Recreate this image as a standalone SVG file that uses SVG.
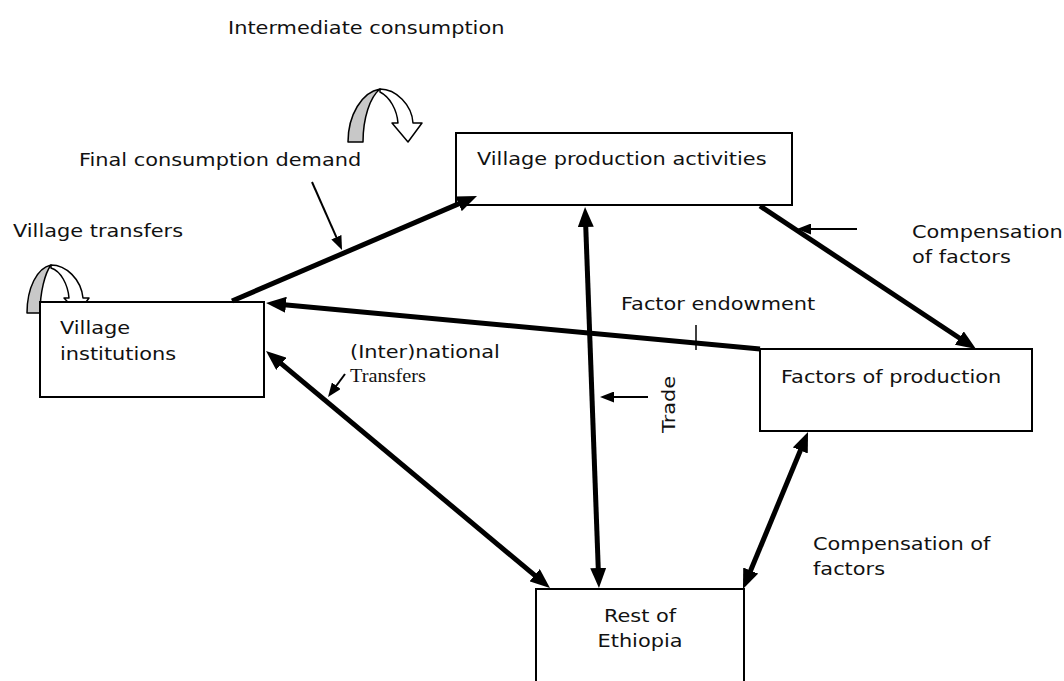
<svg xmlns="http://www.w3.org/2000/svg" width="1064" height="681" viewBox="0 0 1064 681">
<style>
.box{fill:#fff;stroke:#000;stroke-width:2}
.t{font-family:"DejaVu Sans","Verdana",sans-serif;font-size:18px;fill:#111}
.ts{font-family:"Liberation Serif","Times New Roman",serif;font-size:19px;fill:#111}
.thick{stroke:#000;stroke-width:5;fill:none}
.thin{stroke:#000;stroke-width:2;fill:none}
.loopg{fill:#c8c8c8;stroke:#000;stroke-width:1.5;stroke-linejoin:round}
.loopw{fill:#fff;stroke:#000;stroke-width:1.5;stroke-linejoin:round}
</style>
<defs>
<marker id="ah" viewBox="0 0 20 16" refX="10" refY="8" markerWidth="20" markerHeight="16" markerUnits="userSpaceOnUse" orient="auto-start-reverse"><path d="M0,0 L20,8 L0,16 Z" fill="#000"/></marker>
<marker id="as" viewBox="0 0 14 11" refX="9" refY="5.5" markerWidth="14" markerHeight="11" markerUnits="userSpaceOnUse" orient="auto"><path d="M0,0 L14,5.5 L0,11 Z" fill="#000"/></marker>
</defs>
<rect width="1064" height="681" fill="#fff"/>

<g id="labels">
<text class="t" transform="translate(228,34) scale(1.16,1)">Intermediate consumption</text>
<text class="t" transform="translate(79,166) scale(1.16,1)">Final consumption demand</text>
<text class="t" transform="translate(13,237) scale(1.16,1)">Village transfers</text>
<text class="t" transform="translate(912,238) scale(1.16,1)">Compensation</text>
<text class="t" transform="translate(912,263) scale(1.16,1)">of factors</text>
<text class="t" transform="translate(621,310) scale(1.16,1)">Factor endowment</text>
<text class="t" transform="translate(350,358) scale(1.16,1)">(Inter)national</text>
<text class="ts" transform="translate(350,382) scale(1.07,1)">Transfers</text>
<text class="t" transform="translate(675,433) rotate(-90) scale(1.16,1)">Trade</text>
<text class="t" transform="translate(813,550) scale(1.16,1)">Compensation of</text>
<text class="t" transform="translate(813,575) scale(1.16,1)">factors</text>
</g>

<g id="loop-intermediate">
<path class="loopg" d="M348,142 C348,115 362,92 380,89 C370,97 363,118 363,142 Z"/>
<path class="loopw" d="M380,89 C396,89 412,105 413,123 L422,123 L408,142 L392,123 L398,123 C397,110 390,97 380,92 Z"/>
</g>
<g id="loop-village">
<path class="loopg" d="M27,313 C27,288 37,268 51,265 C45,273 40,292 40,313 Z"/>
<path class="loopw" d="M51,265 C66,265 81,279 83,298 L89,298 L78,313 L64,298 L69,298 C68,285 61,271 51,268 Z"/>
</g>

<g id="node-vpa">
<rect class="box" x="456" y="133" width="336" height="72"/>
<text class="t" transform="translate(477,165) scale(1.16,1)">Village production activities</text>
</g>
<g id="node-vi">
<rect class="box" x="40" y="302" width="224" height="95"/>
<text class="t" transform="translate(60,334) scale(1.16,1)">Village</text>
<text class="t" transform="translate(60,360) scale(1.16,1)">institutions</text>
</g>
<g id="node-fp">
<rect class="box" x="760" y="349" width="272" height="82"/>
<text class="t" transform="translate(781,383) scale(1.16,1)">Factors of production</text>
</g>
<g id="node-re">
<rect class="box" x="536" y="589" width="208" height="110"/>
<text class="t" text-anchor="middle" transform="translate(640,622) scale(1.16,1)">Rest of</text>
<text class="t" text-anchor="middle" transform="translate(640,647) scale(1.16,1)">Ethiopia</text>
</g>

<g id="connectors">
<path class="thick" d="M232,301 L467.8,199.9" marker-end="url(#ah)"/>
<path class="thick" d="M760,349 L276,303.9" marker-end="url(#ah)"/>
<path class="thick" d="M760,206 L967.7,343.5" marker-end="url(#ah)"/>
<path class="thick" d="M585.4,217 L598.6,578" marker-start="url(#ah)" marker-end="url(#ah)"/>
<path class="thick" d="M273.7,357.4 L542.3,581.6" marker-start="url(#ah)" marker-end="url(#ah)"/>
<path class="thick" d="M804.2,441.2 L746.8,579.8" marker-start="url(#ah)" marker-end="url(#ah)"/>
<path class="thin" d="M312,182 L340,245.4" marker-end="url(#as)"/>
<path class="thin" d="M857,229 L802,229" marker-end="url(#as)"/>
<path class="thin" d="M648,397 L605,397" marker-end="url(#as)"/>
<path class="thin" d="M345,374 L331,393" marker-end="url(#as)"/>
<path d="M696,325 L696,350" stroke="#000" stroke-width="1.5"/>
</g>
</svg>
